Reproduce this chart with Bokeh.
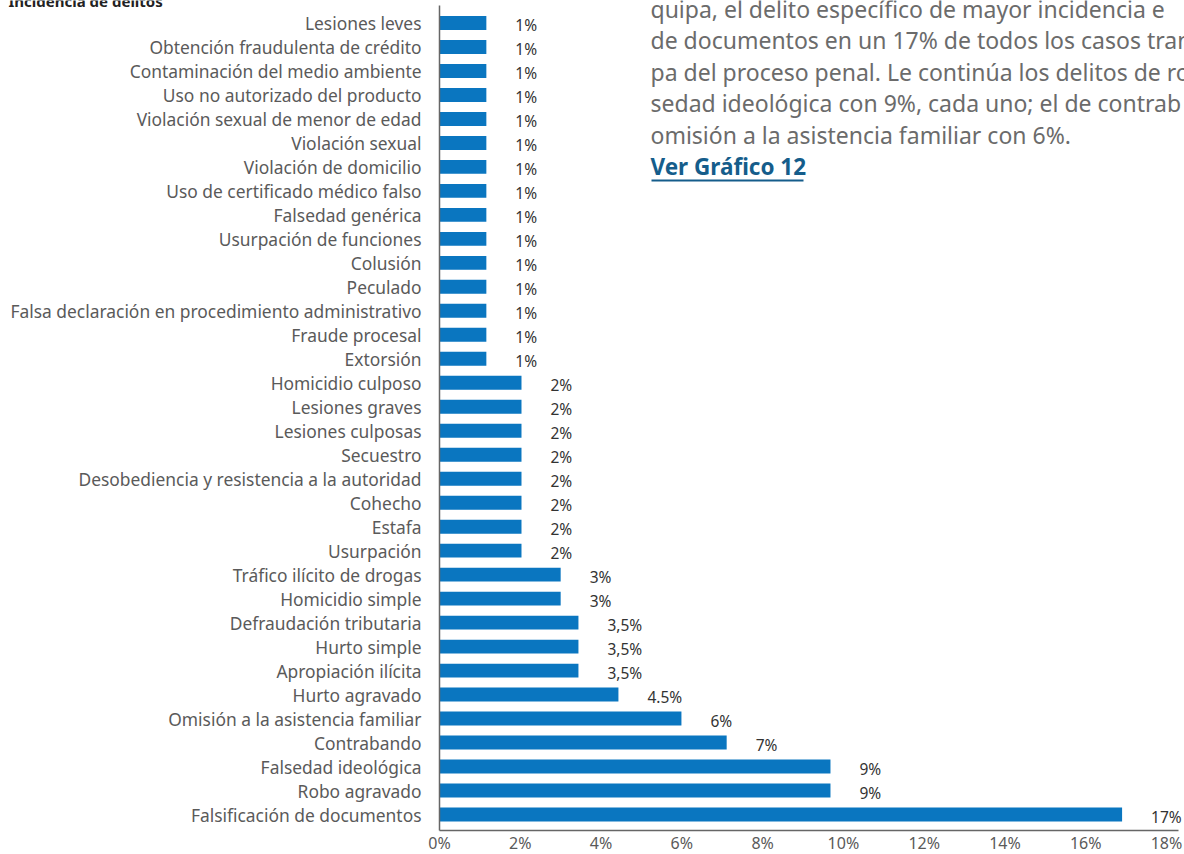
from bokeh.plotting import figure
from bokeh.models import ColumnDataSource, Range1d, FixedTicker, Label, BoxAnnotation, LabelSet
from bokeh.core.properties import value
from bokeh.embed import file_html
from bokeh.resources import INLINE

# ---------------- data (top to bottom as in the chart) ----------------
categories = [
    "Lesiones leves", "Obtención fraudulenta de crédito", "Contaminación del medio ambiente",
    "Uso no autorizado del producto", "Violación sexual de menor de edad", "Violación sexual",
    "Violación de domicilio", "Uso de certificado médico falso", "Falsedad genérica",
    "Usurpación de funciones", "Colusión", "Peculado",
    "Falsa declaración en procedimiento administrativo", "Fraude procesal", "Extorsión",
    "Homicidio culposo", "Lesiones graves", "Lesiones culposas", "Secuestro",
    "Desobediencia y resistencia a la autoridad", "Cohecho", "Estafa", "Usurpación",
    "Tráfico ilícito de drogas", "Homicidio simple", "Defraudación tributaria",
    "Hurto simple", "Apropiación ilícita", "Hurto agravado",
    "Omisión a la asistencia familiar", "Contrabando", "Falsedad ideológica",
    "Robo agravado", "Falsificación de documentos",
]
values = [
    1.16, 1.16, 1.16, 1.16, 1.16, 1.16, 1.16, 1.16, 1.16, 1.16, 1.16, 1.16, 1.16, 1.16, 1.16,
    2.03, 2.03, 2.03, 2.03, 2.03, 2.03, 2.03, 2.03,
    3.0, 3.0, 3.44, 3.44, 3.44, 4.43, 5.99, 7.11, 9.68, 9.68, 16.9,
]
value_labels = [
    "1%", "1%", "1%", "1%", "1%", "1%", "1%", "1%", "1%", "1%", "1%", "1%", "1%", "1%", "1%",
    "2%", "2%", "2%", "2%", "2%", "2%", "2%", "2%",
    "3%", "3%", "3,5%", "3,5%", "3,5%", "4.5%", "6%", "7%", "9%", "9%", "17%",
]
x_ticks = [0, 2, 4, 6, 8, 10, 12, 14, 16, 18]
x_tick_labels = ["0%", "2%", "4%", "6%", "8%", "10%", "12%", "14%", "16%", "18%"]

title_text = "Incidencia de delitos"
paragraph = [
    "quipa, el delito específico de mayor incidencia e",
    "de documentos en un 17% de todos los casos tran",
    "pa del proceso penal. Le continúa los delitos de ro",
    "sedad ideológica con 9%, cada uno; el de contrab",
    "omisión a la asistencia familiar con 6%.",
]
link_text = "Ver Gráfico 12"

# ---------------- layout (frame = whole canvas; axes drawn at fixed locations) ----------------
W, H = 1184, 854
AX_X, AX_Y = 439, 830          # px of the value axis origin / category axis bottom
AX_TOP, AX_RIGHT = 5, 1178     # px extents of the axis lines
X_PX = 40.39                   # px per 1 %
ROW_PX = 23.985                # px per category row
LAST_ROW_PY = 814              # px center of the bottom row

n = len(categories)
x_start = -AX_X / X_PX
x_end = x_start + W / X_PX
y_start = -(H - LAST_ROW_PY) / ROW_PX
y_end = y_start + H / ROW_PX

def dx(px):
    return x_start + px / X_PX

def dy(py):
    return y_start + (H - py) / ROW_PX

pos = [n - 1 - i for i in range(n)]
src = ColumnDataSource(dict(y=pos, v=values, lab=value_labels, cat=categories))

p = figure(width=W, height=H, output_backend="svg", toolbar_location=None,
           x_range=Range1d(x_start, x_end), y_range=Range1d(y_start, y_end),
           min_border=0, min_border_left=0, min_border_right=0,
           min_border_top=0, min_border_bottom=0)
p.outline_line_color = None
p.grid.visible = False
p.background_fill_color = "white"
p.border_fill_color = "white"

FONT = "Noto Sans"

p.hbar(y="y", right="v", left=0, height=0.58, source=src,
       fill_color="#0a76c0", line_color=None)

labels = LabelSet(x="v", y="y", text="lab", source=src, x_offset=29, y_offset=-2,
                  text_font=value(FONT), text_font_size="15.5px", text_color="#333333",
                  text_baseline="middle", text_align="left")
p.add_layout(labels)

# y axis with category names
p.yaxis.fixed_location = 0
p.yaxis.bounds = (dy(AX_Y), dy(AX_TOP))
p.yaxis.ticker = FixedTicker(ticks=pos)
p.yaxis.major_label_overrides = {pp: c for pp, c in zip(pos, categories)}
p.yaxis.major_tick_line_color = None
p.yaxis.minor_tick_line_color = None
p.yaxis.major_tick_out = 0
p.yaxis.major_tick_in = 0
p.yaxis.minor_tick_out = 0
p.yaxis.minor_tick_in = 0
p.yaxis.major_label_standoff = 18
p.yaxis.major_label_text_font = FONT
p.yaxis.major_label_text_font_size = "17.4px"
p.yaxis.major_label_text_color = "#5a5a5a"
p.yaxis.axis_line_color = "#666666"
p.yaxis.axis_line_width = 1.5

p.xaxis.fixed_location = dy(AX_Y)
p.xaxis.bounds = (0, dx(AX_RIGHT))
p.xaxis.ticker = FixedTicker(ticks=x_ticks)
p.xaxis.major_label_overrides = {t: l for t, l in zip(x_ticks, x_tick_labels)}
p.xaxis.major_tick_line_color = None
p.xaxis.minor_tick_line_color = None
p.xaxis.major_tick_out = 0
p.xaxis.major_tick_in = 0
p.xaxis.minor_tick_out = 0
p.xaxis.minor_tick_in = 0
p.xaxis.major_label_standoff = 1
p.xaxis.major_label_text_font = FONT
p.xaxis.major_label_text_font_size = "16px"
p.xaxis.major_label_text_color = "#5a5a5a"
p.xaxis.axis_line_color = "#666666"
p.xaxis.axis_line_width = 1.5

# title of the chart, cut at the top edge as in the source page
p.add_layout(Label(x=dx(8), y=dy(0), text=title_text, text_font=FONT,
                   text_font_size="15px", text_font_style="bold", text_color="#222222",
                   text_baseline="alphabetic", text_align="left"))

para_y = [8, 39.5, 71, 102.5, 134]
for t, yy in zip(paragraph, para_y):
    p.add_layout(Label(x=dx(650), y=dy(yy), text=t, text_font=FONT,
                       text_font_size="23px", text_color="#6b6b6b",
                       text_baseline="middle", text_align="left"))

p.add_layout(Label(x=dx(650), y=dy(166), text=link_text, text_font=FONT,
                   text_font_size="22.5px", text_font_style="bold", text_color="#155d8b",
                   text_baseline="middle", text_align="left"))
p.add_layout(BoxAnnotation(left=dx(651), right=dx(803), top=dy(179), bottom=dy(181),
                           fill_color="#155d8b", fill_alpha=1, line_color=None))

open("out.html", "w").write(file_html(p, INLINE))
